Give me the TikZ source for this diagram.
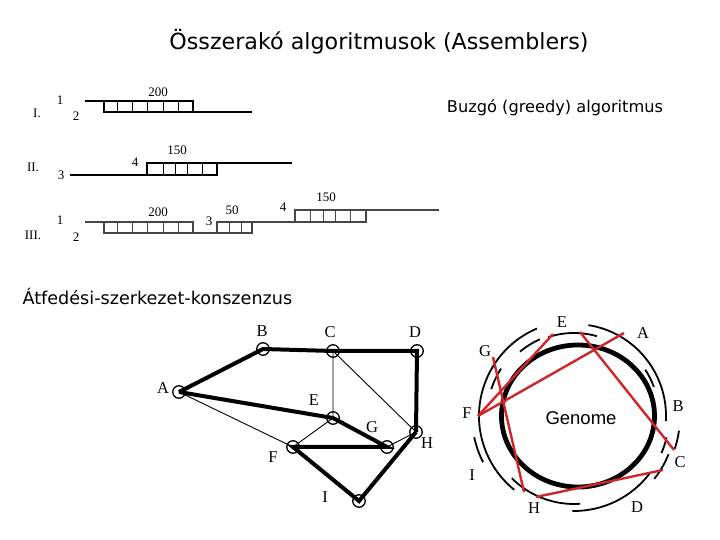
\documentclass[tikz,border=0pt]{standalone}
\usepackage{fontspec}
\setmainfont{Liberation Serif}
\newfontfamily\comicf{DejaVu Sans}
\newfontfamily\arialf{Liberation Sans}
\usepackage{tikz}
\definecolor{olap}{RGB}{208,38,42}
\definecolor{rowg}{RGB}{70,70,70}

\begin{document}
\begin{tikzpicture}[x=1pt,y=1pt,
  vtx/.style={circle,draw,line width=1.3pt,minimum size=12.5pt,inner sep=0pt},
  gl/.style={font=\fontsize{16.5}{16.5}\selectfont,inner sep=0pt},
  rl/.style={font=\fontsize{13}{13}\selectfont,inner sep=0pt},
  hv/.style={line width=4pt},
  ln/.style={line width=0.9pt},
  rd/.style={line width=2.4pt,olap},
  seg/.style={line width=1.8pt}]
  \useasboundingbox (0,0) rectangle (720,540);
  \node[font=\comicf\fontsize{22.2}{22.2}\selectfont] (title) at (379,498) {Összerakó algoritmusok (Assemblers)};
  \node[font=\comicf\fontsize{16.2}{16.2}\selectfont] (greedy) at (555,432) {Buzgó (greedy) algoritmus};
  \node[font=\comicf\fontsize{17.6}{17.6}\selectfont,anchor=west] (olc) at (19,244) {Átfedési-szerkezet-konszenzus};

  % I.
  \node[rl] (r1) at (37,427) {I.}; \node[rl] (r1a) at (60,440) {1}; \node[rl] (r1b) at (76,424) {2};
  \draw[line width=1.4pt] (85,439) -- (193,439) -- (193,428);
  \draw[line width=1.4pt] (104,439) -- (104,428) -- (252,428);
  \foreach \x in {117,132,147,163,178} \draw[ln] (\x,428) -- (\x,439);
  \node[rl] (w1) at (158,448) {200};
  % II.
  \node[rl] (r2) at (33,373) {II.}; \node[rl] (r2a) at (61,365) {3}; \node[rl] (r2b) at (135,378) {4};
  \draw[line width=1.4pt] (70,365) -- (217,365) -- (217,377);
  \draw[line width=1.4pt] (147,365) -- (147,377) -- (292,377);
  \foreach \x in {163,175,187,202} \draw[ln] (\x,365) -- (\x,377);
  \node[rl] (w2) at (177,390) {150};
  % III.
  \node[rl] (r3) at (33,305) {III.}; \node[rl] (r3a) at (60,320) {1}; \node[rl] (r3b) at (76,303) {2};
  \node[rl] (r3c) at (209,319) {3}; \node[rl] (r3d) at (283,333) {4};
  \draw[line width=1.1pt,rowg] (85,318) -- (193,318) -- (193,307);
  \draw[line width=1.1pt,rowg] (104,318) -- (104,307) -- (252,307) -- (252,318);
  \draw[line width=1.1pt,rowg] (217,307) -- (217,318) -- (366,318) -- (366,330);
  \draw[line width=1.1pt,rowg] (295,318) -- (295,330) -- (439,330);
  \foreach \x in {117,132,147,163,178,229,241} \draw[ln,rowg] (\x,307) -- (\x,318);
  \foreach \x in {310,323,335,350} \draw[ln,rowg] (\x,318) -- (\x,330);
  \node[rl] (w3) at (158,328) {200}; \node[rl] (w4) at (232,330) {50}; \node[rl] (w5) at (326,343) {150};

  % overlap graph
  \node[vtx] (A) at (179,148) {}; \node[vtx] (B) at (263,191) {}; \node[vtx] (C) at (333,189) {};
  \node[vtx] (D) at (417,189) {}; \node[vtx] (E) at (333,122) {}; \node[vtx] (G) at (387,93) {};
  \node[vtx] (H) at (416,108) {}; \node[vtx] (F) at (293,93) {}; \node[vtx] (I) at (359,39) {};
  \draw[hv] (A.center) -- (B.center) -- (C.center) -- (D.center) -- (H.center);
  \draw[hv] (A.center) -- (E.center) -- (G.center) -- (F.center) -- (I.center) -- (H.center);
  \draw[ln] (A.center) -- (F.center) -- (E.center) -- (C.center) -- (H.center) -- (G.center);
  \node[gl] (lA) at (163,152) {A}; \node[gl] (lB) at (262,209) {B}; \node[gl] (lC) at (330,208) {C};
  \node[gl] (lD) at (415,208) {D}; \node[gl] (lE) at (314,140) {E}; \node[gl] (lG) at (372,113) {G};
  \node[gl] (lH) at (427,97) {H}; \node[gl] (lF) at (273,83) {F}; \node[gl] (lI) at (325,43) {I};

  % genome
  \coordinate (gc) at (574,124);
  \draw[line width=4.8pt] (578,124) ellipse [x radius=76.5, y radius=71];
  \node[font=\arialf\fontsize{18.5}{18.5}\selectfont] (genome) at (581,122) {Genome};
  \foreach \a/\b/\r in {81/-3/92, 113/231/95, 114/130/84, 74/108/83, 147/162/87, 20/33/85,
      -8/-18/106, -13/-23/95, -22/-38/102, -37/-91/95, 225/274/88, 192/207/102}
    \draw[seg] ([shift={(\a:\r)}]gc) arc[start angle=\a, end angle=\b, radius=\r];
  \coordinate (pE) at (580,208); \coordinate (pC) at (674,90);
  \coordinate (pA) at (624,207); \coordinate (pF) at (478,124);
  \coordinate (pE2) at (553,206); \coordinate (pG) at (493,183);
  \coordinate (pH) at (524,48); \coordinate (pH2) at (536,43); \coordinate (pC2) at (663,70);
  \draw[rd] (pE) -- (pC); \draw[rd] (pA) -- (pF); \draw[rd] (pE2) -- (pF);
  \draw[rd] (pG) -- (pH); \draw[rd] (pH2) -- (pC2);
  \node[gl] (gE) at (562,218) {E}; \node[gl] (gA) at (643,207) {A}; \node[gl] (gB) at (678,134) {B};
  \node[gl] (gC) at (680,78) {C}; \node[gl] (gD) at (637,33) {D}; \node[gl] (gH) at (534,32) {H};
  \node[gl] (gI) at (472,65) {I}; \node[gl] (gF) at (467,127) {F}; \node[gl] (gG) at (485,189) {G};
\end{tikzpicture}
\end{document}
